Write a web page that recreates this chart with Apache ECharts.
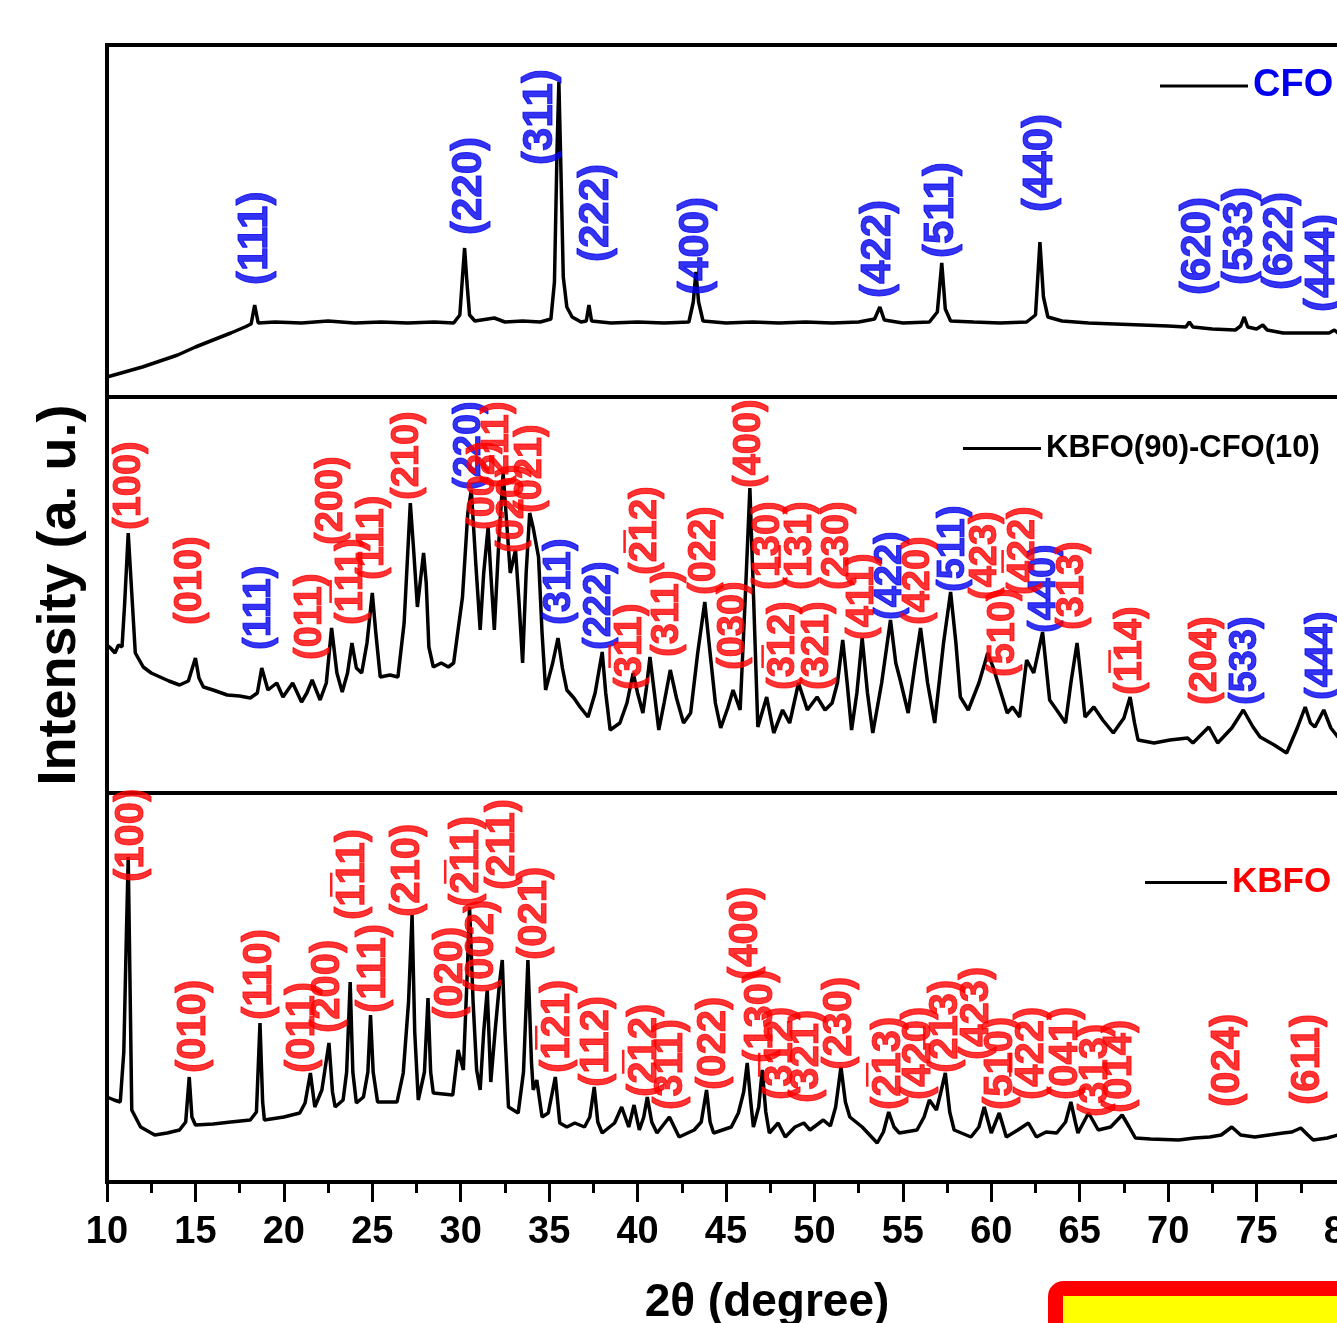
<!DOCTYPE html>
<html>
<head>
<meta charset="utf-8">
<title>XRD: CFO, KBFO(90)-CFO(10), KBFO</title>
<script src="https://cdn.jsdelivr.net/npm/echarts@6.0.0/dist/echarts.min.js"></script>
<style>
html, body { margin: 0; padding: 0; background: #fff; }
#chart { width: 1337px; height: 1323px; }
</style>
</head>
<body>
<div id="chart"></div>
<script>
// 2theta range and tick labels
var twoThetaMin = 10
var twoThetaMax = 80
var twoThetaStep = 5

// panel heights in a.u. (top -> bottom)
var panelMax = [352, 396, 389]

// CFO pattern [2theta, intensity]
var cfoPattern = [
  [10.0, 20], [11.0, 25], [12.0, 30], [13.0, 36], [14.0, 42], [15.0, 50], [16.0, 57], [17.0, 64],
  [17.8, 70], [18.15, 73], [18.35, 92], [18.55, 74], [19.5, 75], [21.0, 74], [22.5, 76], [24.0, 74],
  [25.5, 75], [27.0, 74], [28.5, 75], [29.6, 74], [29.95, 82], [30.1, 120], [30.22, 149], [30.35, 115],
  [30.5, 82], [30.8, 76], [31.9, 79], [32.5, 75], [33.5, 76], [34.5, 75], [35.1, 78], [35.3, 115],
  [35.45, 250], [35.55, 315], [35.65, 240], [35.8, 120], [36.0, 90], [36.3, 80], [36.8, 75], [37.1, 76],
  [37.25, 92], [37.4, 76], [38.5, 74], [40.0, 75], [41.5, 74], [42.9, 75], [43.15, 95], [43.3, 125],
  [43.45, 95], [43.7, 76], [45.0, 74], [46.5, 75], [48.0, 74], [49.5, 75], [51.0, 74], [52.5, 75],
  [53.4, 78], [53.7, 90], [53.95, 77], [55.0, 74], [56.5, 75], [56.95, 85], [57.2, 134], [57.4, 88],
  [57.7, 76], [59.0, 75], [60.5, 74], [62.0, 75], [62.5, 82], [62.75, 155], [62.95, 100], [63.2, 80],
  [64.0, 76], [65.5, 74], [67.0, 73], [68.5, 72], [70.0, 71], [71.0, 70], [71.2, 75], [71.4, 70],
  [72.5, 68], [73.8, 67], [74.1, 71], [74.3, 80], [74.5, 70], [75.0, 68], [75.35, 72], [75.6, 67],
  [76.5, 64], [77.5, 64], [78.5, 64], [79.1, 64], [79.4, 67], [79.6, 64], [80.0, 63]
]

// KBFO(90)-CFO(10) pattern
var mixPattern = [
  [10.0, 148], [10.2, 145], [10.45, 140], [10.65, 148], [10.85, 146], [11.0, 190], [11.2, 260], [11.4, 200],
  [11.6, 140], [12.05, 126], [12.5, 120], [13.0, 116], [13.5, 112], [14.1, 108], [14.6, 112], [15.0, 135],
  [15.2, 115], [15.45, 106], [16.0, 103], [16.8, 98], [17.5, 97], [18.1, 95], [18.5, 100], [18.75, 125],
  [19.1, 103], [19.6, 110], [19.95, 96], [20.5, 110], [21.0, 91], [21.3, 100], [21.6, 113], [22.05, 93],
  [22.4, 110], [22.7, 165], [23.0, 120], [23.3, 101], [23.6, 120], [23.85, 150], [24.1, 125], [24.4, 120],
  [24.7, 150], [25.0, 200], [25.2, 160], [25.45, 116], [26.0, 118], [26.45, 116], [26.8, 170], [27.15, 290],
  [27.35, 240], [27.55, 186], [27.9, 240], [28.05, 210], [28.2, 146], [28.45, 126], [28.9, 130], [29.3, 126],
  [29.6, 130], [30.1, 196], [30.4, 280], [30.6, 303], [30.85, 230], [31.1, 163], [31.3, 220], [31.55, 266],
  [31.7, 220], [31.9, 163], [32.15, 250], [32.4, 320], [32.6, 270], [32.8, 220], [33.1, 243], [33.3, 190],
  [33.5, 130], [33.7, 220], [33.9, 280], [34.1, 265], [34.4, 236], [34.6, 160], [34.8, 103], [35.2, 130],
  [35.5, 155], [35.75, 125], [36.0, 103], [36.4, 95], [36.75, 86], [37.2, 76], [37.6, 100], [38.0, 141],
  [38.2, 100], [38.45, 63], [39.0, 70], [39.4, 90], [39.75, 120], [40.0, 100], [40.3, 80], [40.5, 105],
  [40.7, 136], [40.95, 100], [41.2, 63], [41.5, 90], [41.85, 123], [42.2, 95], [42.6, 70], [43.0, 80],
  [43.4, 140], [43.8, 191], [44.1, 140], [44.4, 90], [44.7, 65], [45.1, 85], [45.4, 103], [45.8, 83],
  [46.1, 200], [46.35, 305], [46.55, 200], [46.8, 66], [47.3, 96], [47.7, 60], [48.2, 83], [48.6, 70],
  [49.1, 110], [49.6, 83], [50.15, 96], [50.6, 83], [51.0, 90], [51.3, 110], [51.6, 153], [51.85, 110],
  [52.1, 63], [52.4, 100], [52.7, 155], [53.0, 100], [53.3, 60], [53.8, 110], [54.3, 173], [54.6, 130],
  [54.85, 113], [55.3, 80], [55.7, 130], [56.0, 165], [56.4, 110], [56.8, 70], [57.3, 150], [57.7, 201],
  [58.0, 150], [58.25, 96], [58.7, 83], [59.3, 110], [59.8, 140], [60.1, 126], [60.5, 103], [60.9, 80],
  [61.2, 86], [61.6, 76], [62.0, 133], [62.4, 120], [62.9, 161], [63.3, 93], [63.7, 83], [64.2, 70],
  [64.5, 110], [64.85, 150], [65.1, 110], [65.3, 76], [65.8, 86], [66.3, 73], [66.9, 60], [67.5, 75],
  [67.85, 96], [68.1, 70], [68.3, 53], [69.2, 50], [70.1, 53], [71.1, 55], [71.4, 50], [72.3, 66],
  [72.8, 50], [73.6, 65], [74.25, 83], [74.8, 66], [75.2, 56], [76.0, 48], [76.7, 40], [77.3, 65],
  [77.75, 86], [78.05, 70], [78.3, 66], [78.8, 83], [79.2, 65], [79.6, 56], [80.0, 50]
]

// KBFO pattern
var kbfoPattern = [
  [10.0, 85], [10.4, 82], [10.75, 80], [10.95, 130], [11.1, 250], [11.2, 325], [11.3, 200], [11.4, 72],
  [11.9, 55], [12.7, 47], [13.4, 49], [14.1, 52], [14.45, 60], [14.65, 105], [14.8, 65], [15.0, 57],
  [16.0, 58], [17.0, 60], [18.1, 62], [18.45, 70], [18.65, 159], [18.8, 80], [18.9, 62], [20.0, 65],
  [20.9, 69], [21.2, 79], [21.5, 109], [21.75, 75], [22.15, 92], [22.55, 139], [22.75, 90], [22.9, 75],
  [23.35, 82], [23.55, 110], [23.75, 200], [23.9, 110], [24.1, 79], [24.5, 85], [24.75, 110], [24.9, 167],
  [25.05, 110], [25.3, 80], [26.4, 80], [26.75, 109], [27.05, 180], [27.25, 267], [27.4, 150], [27.6, 82],
  [27.95, 110], [28.15, 184], [28.3, 110], [28.45, 89], [29.55, 87], [29.85, 132], [30.15, 112], [30.35, 200],
  [30.5, 275], [30.7, 180], [30.9, 112], [31.1, 92], [31.3, 150], [31.5, 192], [31.7, 100], [31.95, 152],
  [32.2, 200], [32.35, 222], [32.5, 150], [32.7, 75], [33.25, 69], [33.55, 110], [33.8, 222], [34.0, 120],
  [34.1, 92], [34.3, 102], [34.6, 65], [34.95, 69], [35.35, 105], [35.6, 59], [36.0, 55], [36.45, 59],
  [37.0, 55], [37.3, 65], [37.55, 95], [37.75, 60], [38.0, 49], [38.7, 59], [39.1, 75], [39.5, 55],
  [39.8, 77], [40.1, 52], [40.35, 65], [40.55, 85], [40.8, 60], [41.1, 49], [41.8, 65], [42.35, 45],
  [43.2, 52], [43.6, 60], [43.9, 92], [44.1, 60], [44.3, 49], [45.3, 55], [45.7, 69], [46.0, 90],
  [46.2, 119], [46.4, 80], [46.55, 55], [46.85, 75], [47.05, 112], [47.25, 70], [47.45, 49], [47.95, 59],
  [48.35, 45], [48.9, 55], [49.4, 59], [49.75, 52], [50.5, 62], [50.9, 56], [51.2, 75], [51.5, 115],
  [51.75, 80], [52.0, 65], [52.7, 55], [53.55, 39], [53.9, 50], [54.2, 70], [54.5, 55], [54.8, 49],
  [55.8, 52], [56.2, 65], [56.5, 82], [56.9, 72], [57.15, 90], [57.4, 109], [57.65, 70], [57.9, 52],
  [58.85, 45], [59.3, 55], [59.6, 75], [60.0, 49], [60.45, 69], [60.85, 45], [61.5, 52], [62.1, 59],
  [62.55, 45], [63.1, 50], [63.7, 49], [64.2, 60], [64.5, 80], [64.75, 60], [64.9, 49], [65.5, 69],
  [66.05, 52], [66.75, 55], [67.4, 67], [67.8, 55], [68.15, 44], [69.0, 43], [70.6, 42], [71.5, 44],
  [72.35, 45], [73.0, 47], [73.6, 55], [74.1, 47], [74.9, 45], [75.7, 47], [76.5, 49], [77.0, 50],
  [77.5, 54], [77.9, 47], [78.2, 42], [79.0, 44], [79.6, 47], [80.0, 45]
]

// (hkl) annotations: [hkl, 2theta, height where the label starts]
var cfoLabels = [
  ['(111)', 18.4, 112], ['(220)', 30.5, 162], ['(311)', 34.5, 232], ['(222)', 37.7, 135],
  ['(400)', 43.35, 102], ['(422)', 53.6, 99], ['(511)', 57.2, 139], ['(440)', 62.8, 185],
  ['(620)', 71.7, 102], ['(533)', 74.1, 112], ['(622)', 76.35, 107], ['(444)', 78.7, 85]
]
var mixCfoLabels = [
  ['(111)', 18.65, 143], ['(220)', 30.5, 303], ['(311)', 35.6, 168], ['(222)', 37.85, 143],
  ['(422)', 54.3, 173], ['(511)', 57.85, 201], ['(440)', 63.0, 160], ['(533)', 74.4, 88], ['(444)', 78.7, 93]
]
var mixKbfoLabels = [
  ['(100)', 11.3, 263], ['(010)', 14.7, 168], ['(011)', 21.5, 133], ['(200)', 22.7, 248],
  ['(1\u030511)', 23.85, 168], ['(111)', 25.0, 213], ['(210)', 27.0, 293], ['(002)', 31.3, 263],
  ['(2\u030511)', 32.1, 305], ['(020)', 32.95, 240], ['(021)', 33.95, 280], ['(3\u030511)', 39.6, 103],
  ['(2\u030512)', 40.45, 218], ['(311)', 41.7, 136], ['(022)', 43.8, 198], ['(030)', 45.4, 123],
  ['(400)', 46.35, 305], ['(130)', 47.4, 203], ['(3\u030512)', 48.25, 103], ['(1\u030531)', 49.2, 203],
  ['(321)', 50.2, 103], ['(230)', 51.3, 203], ['(411)', 52.7, 153], ['(420)', 55.9, 168],
  ['(423)', 59.7, 193], ['(510)', 60.7, 116], ['(4\u030522)', 61.8, 198], ['(313)', 64.6, 163],
  ['(1\u030514)', 67.85, 98], ['(204)', 72.1, 88]
]
var kbfoLabels = [
  ['(100)', 11.4, 300], ['(010)', 14.9, 109], ['(110)', 18.65, 162], ['(011)', 21.1, 109],
  ['(200)', 22.5, 149], ['(1\u030511)', 23.9, 262], ['(111)', 25.1, 169], ['(210)', 27.0, 265],
  ['(020)', 29.45, 162], ['(2\u030511)', 30.35, 275], ['(002)', 31.2, 189], ['(211)', 32.4, 292],
  ['(021)', 34.2, 222], ['(1\u030521)', 35.5, 109], ['(112)', 37.7, 95], ['(2\u030512)', 40.4, 85],
  ['(311)', 41.9, 72], ['(022)', 44.3, 92], ['(400)', 46.15, 202], ['(130)', 47.0, 119],
  ['(3\u030512)', 48.1, 82], ['(321)', 49.6, 79], ['(230)', 51.45, 112], ['(2\u030513)', 54.2, 72],
  ['(420)', 55.9, 82], ['(2\u030513)', 57.45, 109], ['(423)', 59.2, 122], ['(510)', 60.55, 72],
  ['(4\u030522)', 62.3, 82], ['(041)', 64.2, 82], ['(313)', 65.9, 65], ['(014)', 67.3, 69],
  ['(024)', 73.4, 75], ['(611)', 77.9, 77]
]

var RED = '#ff0000'
var BLUE = '#0000ee'
var FONT = "'Liberation Sans', Arial, sans-serif"

function xAxisFor (i, bottom) {
  return {
    type: 'value', gridIndex: i, min: twoThetaMin, max: twoThetaMax, interval: twoThetaStep,
    splitLine: { show: false },
    axisLine: { show: bottom, lineStyle: { color: '#000', width: 4 } },
    axisTick: { show: bottom, length: 20, lineStyle: { color: '#000', width: 3 } },
    minorTick: { show: bottom, splitNumber: 2, length: 11, lineStyle: { color: '#000', width: 3 } },
    axisLabel: { show: bottom, margin: 32, color: '#000', fontSize: 38, fontWeight: 'bold', fontFamily: FONT },
    name: bottom ? '2\u03b8 (degree)' : '',
    nameLocation: 'middle', nameGap: 98,
    nameTextStyle: { color: '#000', fontSize: 46, fontWeight: 'bold', fontFamily: FONT, padding: [0, 0, 0, 82] }
  }
}

function yAxisFor (i, title) {
  return {
    type: 'value', gridIndex: i, min: 0, max: panelMax[i],
    splitLine: { show: false }, axisLine: { show: false }, axisTick: { show: false }, axisLabel: { show: false },
    name: title, nameLocation: 'middle', nameRotate: 90, nameGap: 20,
    nameTextStyle: { color: '#000', fontSize: 54, fontWeight: 'bold', fontFamily: FONT }
  }
}

function patternSeries (name, data, i) {
  return {
    name: name, type: 'line', xAxisIndex: i, yAxisIndex: i, data: data,
    symbol: 'none', smooth: false, z: 3,
    lineStyle: { color: '#000', width: 3.5 }, itemStyle: { color: '#000' }
  }
}

function labelSeries (list, color, i, size) {
  return {
    type: 'scatter', xAxisIndex: i, yAxisIndex: i, symbolSize: 0, silent: true, z: 5,
    data: list.map(function (d) { return { name: d[0], value: [d[1], d[2]] } }),
    label: {
      show: true, position: 'inside', rotate: 90, align: 'left', verticalAlign: 'middle',
      formatter: '{b}', color: color, fontSize: size, fontWeight: 'bold', fontFamily: FONT,
      textBorderWidth: 1, textBorderColor: color
    }
  }
}

function legendFor (name, left, top, width, color, size) {
  return {
    data: [name], left: left, top: top, icon: 'rect', itemWidth: width, itemHeight: 3, selectedMode: false,
    textStyle: { color: color, fontSize: size, fontWeight: 'bold', fontFamily: FONT }
  }
}

var chart = echarts.init(document.getElementById('chart'), null, { renderer: 'canvas' })
var gridBox = {
  show: true, left: 107, right: -8, containLabel: false, outerBoundsMode: 'none',
  borderColor: '#000', borderWidth: 4, backgroundColor: 'transparent'
}

chart.setOption({
  backgroundColor: '#fff',
  animation: false,
  grid: [
    Object.assign({ top: 45, height: 352 }, gridBox),
    Object.assign({ top: 397, height: 396 }, gridBox),
    Object.assign({ top: 793, height: 389 }, gridBox)
  ],
  xAxis: [xAxisFor(0, false), xAxisFor(1, false), xAxisFor(2, true)],
  yAxis: [yAxisFor(0, ''), yAxisFor(1, 'Intensity (a. u.)'), yAxisFor(2, '')],
  legend: [
    legendFor('CFO', 1155, 62, 88, BLUE, 38),
    legendFor('KBFO(90)-CFO(10)', 958, 428, 78, '#000', 31),
    legendFor('KBFO', 1140, 860, 82, RED, 35)
  ],
  series: [
    patternSeries('CFO', cfoPattern, 0),
    patternSeries('KBFO(90)-CFO(10)', mixPattern, 1),
    patternSeries('KBFO', kbfoPattern, 2),
    labelSeries(cfoLabels, BLUE, 0, 42),
    labelSeries(mixCfoLabels, BLUE, 1, 38),
    labelSeries(mixKbfoLabels, RED, 1, 38),
    labelSeries(kbfoLabels, RED, 2, 40)
  ],
  graphic: [
    {
      type: 'rect', left: 1048, top: 1281, z: 10,
      shape: { width: 310, height: 60, r: 8 },
      style: { fill: '#ffff00', stroke: '#ff0000', lineWidth: 15 }
    }
  ]
})
</script>
</body>
</html>
